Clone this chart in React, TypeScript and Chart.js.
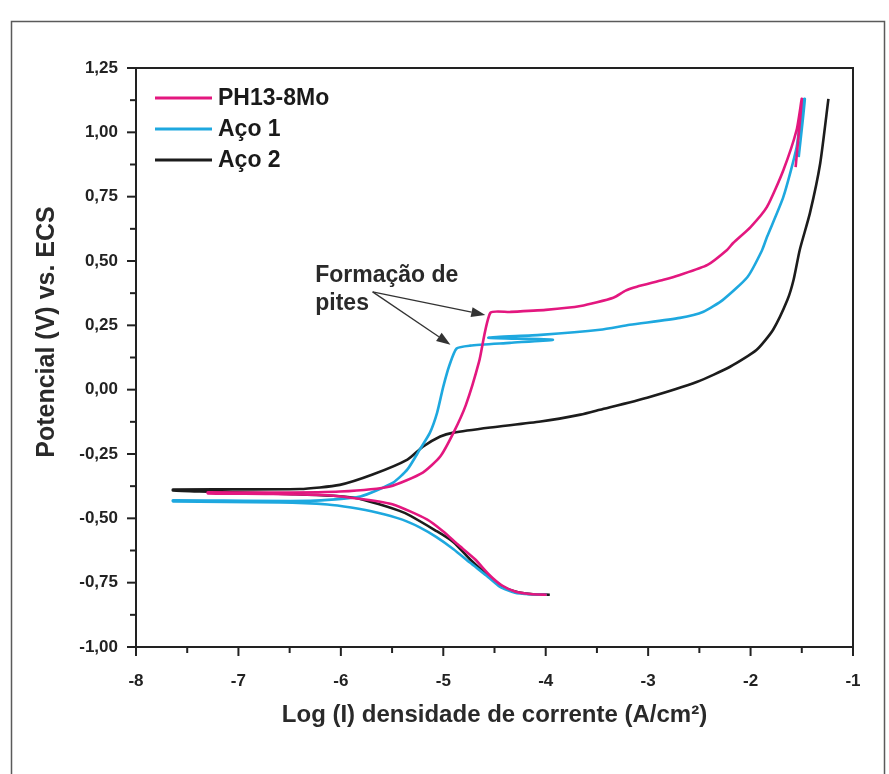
import React, { useEffect, useRef } from "react";
import { Chart, registerables } from "chart.js";

Chart.register(...registerables);

// ---------- data ----------
const seriesLabels = ["PH13-8Mo", "Aço 1", "Aço 2"];
const seriesColors = ["#e3177f", "#1ea8df", "#1c1c1c"];

// PH13-8Mo : cathodic branch (from -4 towards Ecorr) then anodic branch
const phX = [-3.99, -4.15, -4.3, -4.43, -4.55, -4.69, -4.86, -5.0, -5.16, -5.49, -5.8, -6.13, -6.7, -7.3,
  -7.3, -6.6, -6.01, -5.52, -5.2, -5.03, -4.9, -4.78, -4.65, -4.54, -4.35, -4.0, -3.66, -3.34, -3.22, -3.11,
  -2.85, -2.69, -2.42, -2.23, -2.17, -2.0, -1.84, -1.68, -1.55, -1.5, -1.56];
const phY = [-0.797, -0.794, -0.784, -0.76, -0.72, -0.659, -0.601, -0.551, -0.504, -0.446, -0.425, -0.41, -0.405, -0.403,
  -0.399, -0.4, -0.396, -0.376, -0.322, -0.26, -0.167, -0.06, 0.11, 0.299, 0.302, 0.31, 0.325, 0.357, 0.385, 0.4,
  0.427, 0.446, 0.485, 0.543, 0.57, 0.632, 0.71, 0.853, 1.01, 1.13, 0.865];

// Aço 1
const aco1X = [-3.99, -4.15, -4.3, -4.45, -4.58, -4.74, -4.9, -5.07, -5.23, -5.4, -5.65, -5.9, -6.13, -6.6, -7.64,
  -7.64, -6.3, -5.81, -5.49, -5.35, -5.23, -5.13, -5.06, -5.0, -4.94, -4.87, -4.74, -4.35, -3.93, -4.56, -4.05,
  -3.47, -3.18, -2.69, -2.46, -2.27, -2.03, -1.89, -1.84, -1.68, -1.55, -1.49, -1.47, -1.53];
const aco1Y = [-0.797, -0.795, -0.789, -0.765, -0.722, -0.672, -0.62, -0.572, -0.535, -0.505, -0.477, -0.458, -0.446, -0.438, -0.434,
  -0.43, -0.432, -0.415, -0.361, -0.31, -0.233, -0.167, -0.089, 0.012, 0.095, 0.16, 0.171, 0.182, 0.194, 0.202, 0.213,
  0.233, 0.252, 0.279, 0.303, 0.349, 0.438, 0.54, 0.593, 0.749, 0.943, 1.125, 1.13, 0.904];

// Aço 2
const aco2X = [-3.96, -4.12, -4.27, -4.42, -4.57, -4.74, -4.9, -5.06, -5.39, -5.88, -6.53, -7.38, -7.64,
  -7.64, -6.4, -6.01, -5.69, -5.35, -5.2, -5.03, -4.9, -4.54, -4.05, -3.66, -3.47, -3.01, -2.52, -2.2,
  -1.94, -1.78, -1.64, -1.58, -1.52, -1.42, -1.32, -1.24];
const aco2Y = [-0.797, -0.795, -0.787, -0.765, -0.72, -0.659, -0.593, -0.551, -0.477, -0.419, -0.405, -0.396, -0.392,
  -0.388, -0.386, -0.37, -0.33, -0.272, -0.222, -0.182, -0.167, -0.147, -0.124, -0.097, -0.078, -0.031, 0.031, 0.089,
  0.155, 0.233, 0.349, 0.427, 0.543, 0.687, 0.88, 1.13];

const xTickValues = [-8, -7, -6, -5, -4, -3, -2, -1];
const yTickValues = [-1.0, -0.75, -0.5, -0.25, 0.0, 0.25, 0.5, 0.75, 1.0, 1.25];

const xTitle = "Log (I) densidade de corrente (A/cm²)";
const yTitle = "Potencial (V) vs. ECS";

const annotationLines = ["Formação de", "pites"];
const annotationAnchor = { x: -6.25, y: 0.42 };
const arrowStart = { x: -5.69, y: 0.38 };
const arrowTips = [
  { x: -4.59, y: 0.29 },
  { x: -4.93, y: 0.175 },
];

const FONT = "'Liberation Sans', Arial, Helvetica, sans-serif";

function toPoints(xs: number[], ys: number[]) {
  return xs.map((x, i) => ({ x, y: ys[i] }));
}

const fmtY = (v: number) => v.toFixed(2).replace(".", ",");

const decorPlugin = {
  id: "decor",
  beforeDraw(chart: any) {
    const ctx = chart.ctx;
    ctx.save();
    ctx.fillStyle = "#ffffff";
    ctx.fillRect(0, 0, chart.width, chart.height);
    ctx.strokeStyle = "#5a5a5a";
    ctx.lineWidth = 1.5;
    ctx.strokeRect(11.5, 21.5, 873, 820);
    ctx.restore();
  },
  afterDraw(chart: any) {
    const { ctx, chartArea: ca } = chart;
    const xs = chart.scales.x;
    const ys = chart.scales.y;
    ctx.save();
    // plot box
    ctx.strokeStyle = "#222";
    ctx.lineWidth = 2;
    ctx.strokeRect(ca.left, ca.top, ca.right - ca.left, ca.bottom - ca.top);

    // ticks
    ctx.lineWidth = 2;
    for (let i = 0; i < xTickValues.length; i++) {
      const v = xTickValues[i];
      const px = xs.getPixelForValue(v);
      ctx.beginPath();
      ctx.moveTo(px, ca.bottom);
      ctx.lineTo(px, ca.bottom + 9);
      ctx.stroke();
      if (i < xTickValues.length - 1) {
        const pm = xs.getPixelForValue(v + 0.5);
        ctx.beginPath();
        ctx.moveTo(pm, ca.bottom);
        ctx.lineTo(pm, ca.bottom + 6);
        ctx.stroke();
      }
    }
    for (let i = 0; i < yTickValues.length; i++) {
      const v = yTickValues[i];
      const py = ys.getPixelForValue(v);
      ctx.beginPath();
      ctx.moveTo(ca.left, py);
      ctx.lineTo(ca.left - 9, py);
      ctx.stroke();
      if (i < yTickValues.length - 1) {
        const pm = ys.getPixelForValue(v + 0.125);
        ctx.beginPath();
        ctx.moveTo(ca.left, pm);
        ctx.lineTo(ca.left - 6, pm);
        ctx.stroke();
      }
    }

    // legend
    const ds = chart.data.datasets;
    ctx.font = `bold 23px ${FONT}`;
    ctx.textBaseline = "middle";
    ctx.textAlign = "left";
    for (let i = 0; i < ds.length; i++) {
      const ly = 98 + i * 31;
      ctx.strokeStyle = ds[i].borderColor;
      ctx.lineWidth = 3;
      ctx.beginPath();
      ctx.moveTo(155, ly);
      ctx.lineTo(212, ly);
      ctx.stroke();
      ctx.fillStyle = "#1a1a1a";
      ctx.fillText(ds[i].label, 218, ly + 1);
    }

    // annotation text
    const ax = xs.getPixelForValue(annotationAnchor.x);
    const ay = ys.getPixelForValue(annotationAnchor.y);
    ctx.fillStyle = "#2a2a2a";
    ctx.textBaseline = "alphabetic";
    annotationLines.forEach((t, i) => ctx.fillText(t, ax, ay + i * 28));

    // arrows
    const sx = xs.getPixelForValue(arrowStart.x);
    const sy = ys.getPixelForValue(arrowStart.y);
    ctx.strokeStyle = "#333";
    ctx.fillStyle = "#333";
    ctx.lineWidth = 1.3;
    arrowTips.forEach((t) => {
      const tx = xs.getPixelForValue(t.x);
      const ty = ys.getPixelForValue(t.y);
      const ang = Math.atan2(ty - sy, tx - sx);
      const hl = 14, hw = 5;
      const bx = tx - hl * Math.cos(ang);
      const by = ty - hl * Math.sin(ang);
      ctx.beginPath();
      ctx.moveTo(sx, sy);
      ctx.lineTo(bx, by);
      ctx.stroke();
      ctx.beginPath();
      ctx.moveTo(tx, ty);
      ctx.lineTo(bx + hw * Math.sin(ang), by - hw * Math.cos(ang));
      ctx.lineTo(bx - hw * Math.sin(ang), by + hw * Math.cos(ang));
      ctx.closePath();
      ctx.fill();
    });

    // axis titles
    ctx.fillStyle = "#2a2a2a";
    ctx.font = `bold 24px ${FONT}`;
    ctx.textAlign = "center";
    ctx.textBaseline = "alphabetic";
    ctx.fillText(xTitle, (ca.left + ca.right) / 2, 722);
    ctx.font = `bold 25px ${FONT}`;
    ctx.save();
    ctx.translate(54, 332);
    ctx.rotate(-Math.PI / 2);
    ctx.fillText(yTitle, 0, 0);
    ctx.restore();

    ctx.restore();
  },
};

export default function App() {
  const ref = useRef<HTMLCanvasElement | null>(null);
  useEffect(() => {
    if (!ref.current) return;
    const sets = [
      toPoints(phX, phY),
      toPoints(aco1X, aco1Y),
      toPoints(aco2X, aco2Y),
    ];
    const chart = new Chart(ref.current, {
      type: "scatter",
      data: {
        datasets: sets.map((d, i) => ({
          label: seriesLabels[i],
          data: d,
          showLine: true,
          borderColor: seriesColors[i],
          backgroundColor: seriesColors[i],
          borderWidth: 2.6,
          pointRadius: 0,
          tension: 0.2,
        })),
      },
      options: {
        responsive: false,
        animation: false,
        devicePixelRatio: 1,
        layout: { padding: { left: 0, top: 68, right: 36, bottom: 0 } },
        plugins: { legend: { display: false }, tooltip: { enabled: false } },
        scales: {
          x: {
            type: "linear",
            min: -8,
            max: -1,
            afterBuildTicks: (s: any) => {
              s.ticks = xTickValues.map((v) => ({ value: v }));
            },
            afterFit: (s: any) => {
              s.height = 127;
            },
            grid: { display: false, drawTicks: false },
            border: { display: false },
            ticks: {
              padding: 24,
              color: "#222",
              font: { family: FONT, size: 17, weight: "bold" },
              callback: (v: any) => String(v),
            },
          },
          y: {
            type: "linear",
            min: -1,
            max: 1.25,
            afterBuildTicks: (s: any) => {
              s.ticks = yTickValues.map((v) => ({ value: v }));
            },
            afterFit: (s: any) => {
              s.width = 136;
            },
            grid: { display: false, drawTicks: false },
            border: { display: false },
            ticks: {
              padding: 18,
              color: "#222",
              font: { family: FONT, size: 17, weight: "bold" },
              callback: (v: any) => fmtY(Number(v)),
            },
          },
        },
      },
      plugins: [decorPlugin],
    } as any);
    return () => chart.destroy();
  }, []);
  return (
    <div style={{ position: "absolute", left: 0, top: 0, width: 889, height: 774, background: "#fff" }}>
      <canvas ref={ref} width={889} height={774} style={{ width: 889, height: 774, display: "block" }} />
    </div>
  );
}
